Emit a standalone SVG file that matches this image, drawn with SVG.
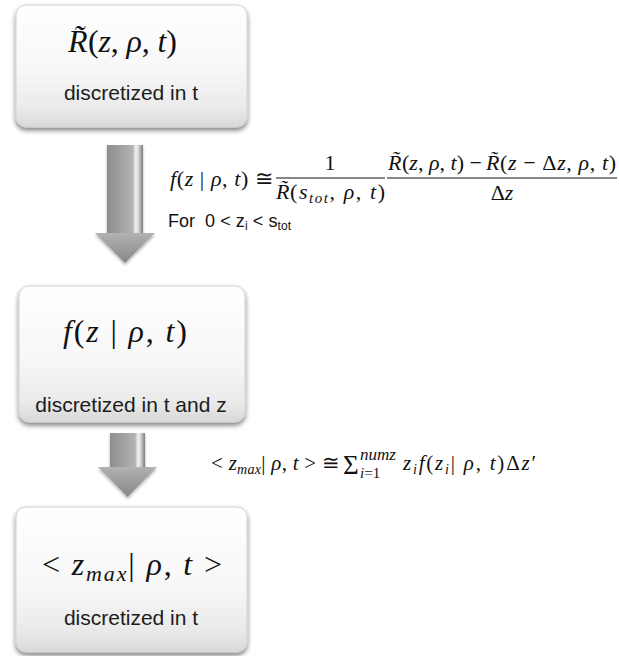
<svg xmlns="http://www.w3.org/2000/svg" width="619" height="656" viewBox="0 0 619 656">
<style>
.lbl{font-family:"Liberation Sans",Arial,sans-serif;font-size:21px;fill:#1c1c1c;text-anchor:middle}
.m{font-family:"Liberation Serif","Times New Roman","DejaVu Serif",serif;font-style:italic;fill:#111}
.u{font-style:normal}
.box{fill:url(#boxg);stroke:#d2d2d2;stroke-width:1;filter:url(#sh)}
.bar{stroke:#111;stroke-width:1.2}
.for{font-family:"Liberation Sans",Arial,sans-serif;font-size:18px;fill:#111}
.shaft{fill:url(#shaft)}
.head{fill:url(#head)}
.arrow{filter:url(#ash)}
</style>
<defs>
<linearGradient id="boxg" x1="0" y1="0" x2="0" y2="1">
<stop offset="0" stop-color="#ffffff"/>
<stop offset="0.55" stop-color="#f7f7f7"/>
<stop offset="0.85" stop-color="#eaeaea"/>
<stop offset="1" stop-color="#d8d8d8"/>
</linearGradient>
<filter id="sh" x="-10%" y="-10%" width="120%" height="130%">
<feGaussianBlur in="SourceAlpha" stdDeviation="2.5"/>
<feOffset dy="3"/>
<feComponentTransfer><feFuncA type="linear" slope="0.5"/></feComponentTransfer>
<feMerge><feMergeNode/><feMergeNode in="SourceGraphic"/></feMerge>
</filter>
<filter id="ash" x="-20%" y="-10%" width="140%" height="130%">
<feGaussianBlur in="SourceAlpha" stdDeviation="1.5"/>
<feOffset dy="1.5"/>
<feComponentTransfer><feFuncA type="linear" slope="0.3"/></feComponentTransfer>
<feMerge><feMergeNode/><feMergeNode in="SourceGraphic"/></feMerge>
</filter>
<linearGradient id="shaft" x1="0" y1="0" x2="1" y2="0">
<stop offset="0" stop-color="#8e8e8e"/>
<stop offset="0.45" stop-color="#a4a4a4"/>
<stop offset="0.72" stop-color="#b4b4b4"/>
<stop offset="0.8" stop-color="#f4f4f4"/>
<stop offset="0.87" stop-color="#d8d8d8"/>
<stop offset="1" stop-color="#7c7c7c"/>
</linearGradient>
<linearGradient id="head" x1="0" y1="0" x2="0" y2="1">
<stop offset="0" stop-color="#b2b2b2"/>
<stop offset="1" stop-color="#878787"/>
</linearGradient>
</defs>

<g id="node-1">
<rect class="box" x="16" y="5" width="231" height="122" rx="10"/>
<text class="m" x="68" y="52" font-size="32">R&#x0303;</text>
<text class="m" x="88" y="52" font-size="32" textLength="89" lengthAdjust="spacing"><tspan class="u">(</tspan>z<tspan class="u">, </tspan>ρ<tspan class="u">, </tspan>t<tspan class="u">)</tspan></text>
<text class="lbl" x="131" y="100">discretized in t</text>
</g>

<g id="node-2">
<rect class="box" x="19" y="286" width="226" height="136" rx="10"/>
<text class="m" x="63" y="342" font-size="32" textLength="124" lengthAdjust="spacing">f<tspan class="u">(</tspan>z<tspan class="u"> | </tspan>ρ<tspan class="u">, </tspan>t<tspan class="u">)</tspan></text>
<text class="lbl" x="131" y="412">discretized in t and z</text>
</g>

<g id="node-3">
<rect class="box" x="16" y="507" width="231" height="145" rx="10"/>
<text class="m" x="42" y="575" font-size="32" textLength="180" lengthAdjust="spacing"><tspan class="u">&lt; </tspan>z<tspan font-size="22" dy="6">max</tspan><tspan class="u" dy="-6">| </tspan>ρ<tspan class="u">, </tspan>t<tspan class="u"> &gt;</tspan></text>
<text class="lbl" x="131" y="625">discretized in t</text>
</g>

<g id="connectors">
<g id="arrow-1" class="arrow">
<rect class="shaft" x="107" y="145" width="36" height="89"/>
<polygon class="head" points="95,233 155,233 125,263"/>
</g>
<g id="arrow-2" class="arrow">
<rect class="shaft" x="110" y="433" width="35" height="35"/>
<polygon class="head" points="98,467 157,467 127.5,497"/>
</g>

<g id="label-1">
<text class="m" x="170" y="186" font-size="22" textLength="103" lengthAdjust="spacing">f<tspan class="u">(</tspan>z<tspan class="u"> | </tspan>ρ<tspan class="u">, </tspan>t<tspan class="u">) ≅</tspan></text>
<text class="m u" x="330" y="170" font-size="22" text-anchor="middle">1</text>
<line class="bar" x1="276" y1="178" x2="385" y2="178"/>
<text class="m" x="276" y="199" font-size="22">R&#x0303;</text>
<text class="m" x="290" y="199" font-size="22" textLength="95" lengthAdjust="spacing"><tspan class="u">(</tspan>s<tspan font-size="15" dy="4">tot</tspan><tspan class="u" dy="-4">, </tspan>ρ<tspan class="u">, </tspan>t<tspan class="u">)</tspan></text>
<line class="bar" x1="387" y1="178" x2="617" y2="178"/>
<text class="m" x="388" y="170" font-size="22">R&#x0303;</text>
<text class="m" x="402" y="170" font-size="22" textLength="80" lengthAdjust="spacing"><tspan class="u">(</tspan>z<tspan class="u">, </tspan>ρ<tspan class="u">, </tspan>t<tspan class="u">) −</tspan></text>
<text class="m" x="486" y="170" font-size="22">R&#x0303;</text>
<text class="m" x="500" y="170" font-size="22" textLength="116" lengthAdjust="spacing"><tspan class="u">(</tspan>z<tspan class="u"> − Δ</tspan>z<tspan class="u">, </tspan>ρ<tspan class="u">, </tspan>t<tspan class="u">)</tspan></text>
<text class="m" x="502" y="200" font-size="22" text-anchor="middle"><tspan class="u">Δ</tspan>z</text>
<text class="for" x="168" y="227">For</text>
<text class="for" x="205" y="227" textLength="86" lengthAdjust="spacing">0 &lt; z<tspan font-size="12" dy="3">i</tspan><tspan dy="-3"> &lt; s</tspan><tspan font-size="12" dy="3">tot</tspan></text>
</g>

<g id="label-2">
<text class="m" x="211" y="470" font-size="21" textLength="129" lengthAdjust="spacing"><tspan class="u">&lt; </tspan>z<tspan font-size="14" dy="4">max</tspan><tspan class="u" dy="-4">| </tspan>ρ<tspan class="u">, </tspan>t<tspan class="u"> &gt; ≅</tspan></text>
<text class="m u" x="343" y="474" font-size="27">Σ</text>
<text class="m" x="360" y="460" font-size="17">numz</text>
<text class="m" x="360" y="478" font-size="15">i<tspan class="u">=1</tspan></text>
<text class="m" x="403" y="470" font-size="21" textLength="133" lengthAdjust="spacing">z<tspan font-size="14" dy="4">i</tspan><tspan dy="-4">f</tspan><tspan class="u">(</tspan>z<tspan font-size="14" dy="4">i</tspan><tspan class="u" dy="-4">| </tspan>ρ<tspan class="u">, </tspan>t<tspan class="u">)Δ</tspan>z<tspan class="u">′</tspan></text>
</g>
</g>
</svg>
